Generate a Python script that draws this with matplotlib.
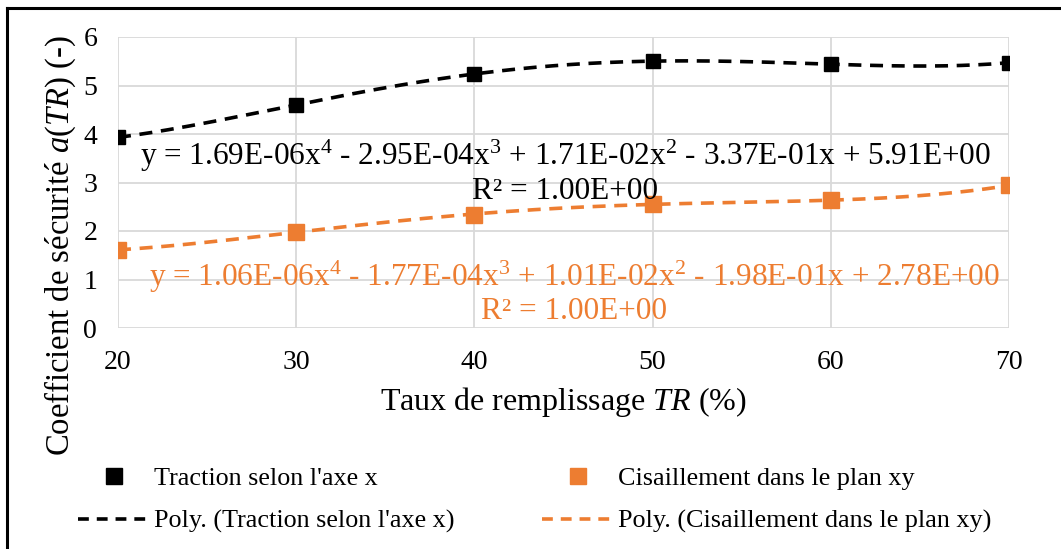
import numpy as np
import matplotlib
matplotlib.use("Agg")
import matplotlib.pyplot as plt
from matplotlib.lines import Line2D

plt.rcParams['font.family'] = ['Liberation Serif', 'DejaVu Serif']
plt.rcParams['mathtext.fontset'] = 'custom'
plt.rcParams['mathtext.rm'] = 'Liberation Serif'
plt.rcParams['mathtext.it'] = 'Liberation Serif:italic'

tr = [20, 30, 40, 50, 60, 70]
traction = [3.93, 4.60, 5.24, 5.50, 5.44, 5.47]
cisaillement = [1.61, 1.98, 2.34, 2.56, 2.63, 2.94]
name_t = "Traction selon l'axe x"
name_c = "Cisaillement dans le plan xy"
eq_t = "y = 1.69E-06x$^{4}$ - 2.95E-04x$^{3}$ + 1.71E-02x$^{2}$ - 3.37E-01x + 5.91E+00\nR² = 1.00E+00"
eq_c = "y = 1.06E-06x$^{4}$ - 1.77E-04x$^{3}$ + 1.01E-02x$^{2}$ - 1.98E-01x + 2.78E+00\nR² = 1.00E+00"
xticks = [20, 30, 40, 50, 60, 70]
yticks = [0, 1, 2, 3, 4, 5, 6]

ORANGE = '#ED7D31'
W, H = 1061, 549
fig = plt.figure(figsize=(W / 100, H / 100), dpi=100)
ax = fig.add_axes([118 / W, 1 - 328 / H, (1009 - 118) / W, (328 - 37) / H])

xs = np.linspace(min(tr), max(tr), 300)
dash = (3.6, 2.4)
for vals, col, ms in [(traction, 'black', 10.5), (cisaillement, ORANGE, 12)]:
    p = np.polyfit(tr, vals, 4)
    ax.plot(xs, np.polyval(p, xs), color=col, lw=2.6, dashes=dash, zorder=3)
    ax.plot(tr, vals, linestyle='none', marker='s', ms=ms, color=col, zorder=4)

ax.set_xlim(20, 70)
ax.set_ylim(0, 6)
ax.set_xticks(xticks)
ax.set_yticks(yticks)
ax.grid(True, color='#d9d9d9', lw=1.3)
ax.set_axisbelow(True)
for s in ax.spines.values():
    s.set_visible(False)
ax.tick_params(length=0, labelsize=20)
ax.tick_params(axis='x', pad=16)
ax.tick_params(axis='y', pad=15)

ax.text(45.1, 3.22, eq_t, ha='center', va='center', fontsize=22.5, color='black',
        linespacing=1.1, zorder=5)
ax.text(45.6, 0.73, eq_c, ha='center', va='center', fontsize=22.5, color=ORANGE,
        linespacing=1.1, zorder=5)

fig.text(563 / W, 1 - 402 / H, 'Taux de remplissage $\\mathit{TR}$ (%)', ha='center',
         va='center', fontsize=23)
fig.text(60 / W, 1 - 246 / H, 'Coefficient de sécurité $\\mathit{a}$($\\mathit{TR}$) (-)',
         ha='center', va='center', rotation=90, fontsize=23.5)

handles = [
    Line2D([], [], linestyle='none', marker='s', ms=11, color='black'),
    Line2D([], [], color='black', lw=2.6, dashes=(3.0, 2.2)),
    Line2D([], [], linestyle='none', marker='s', ms=12, color=ORANGE),
    Line2D([], [], color=ORANGE, lw=2.6, dashes=(3.0, 2.2)),
]
labels = [name_t, 'Poly. (' + name_t + ')', name_c, 'Poly. (' + name_c + ')']
fig.legend(handles, labels, ncol=2, frameon=False, fontsize=18.8,
           loc='center left', bbox_to_anchor=(68 / W, 1 - 500 / H),
           handlelength=2.75, handletextpad=0.15, columnspacing=3.35,
           labelspacing=0.75, borderaxespad=0)

fig.add_artist(Line2D([7 / W, 1], [1 - 8 / H, 1 - 8 / H], color='black', lw=2.2))
fig.add_artist(Line2D([7 / W, 7 / W], [0, 1 - 8 / H], color='black', lw=2.2))

fig.savefig('out.png', dpi=100)
